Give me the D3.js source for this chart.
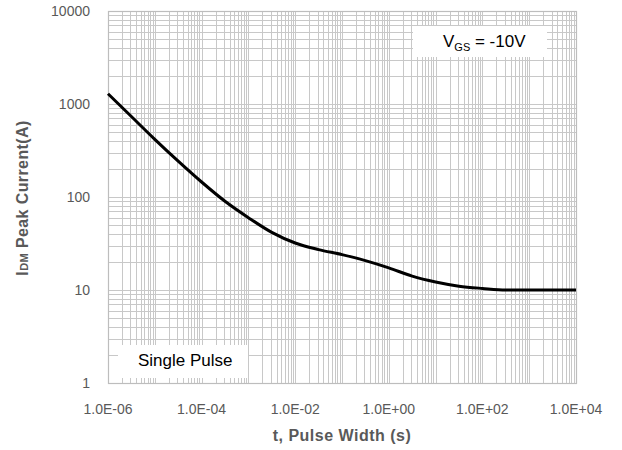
<!DOCTYPE html>
<html><head><meta charset="utf-8">
<script src="https://cdn.jsdelivr.net/npm/d3@7"></script>
<style>body{margin:0;background:#fff}svg{display:block}</style>
</head><body>
<svg id="c" width="622" height="450"></svg>
<script>
// Data (half-decade samples)
const pulseWidth = [1e-6, 3.16e-6, 1e-5, 3.16e-5, 1e-4, 3.16e-4, 1e-3, 3.16e-3, 1e-2, 3.16e-2, 1e-1, 3.16e-1, 1, 3.16, 10, 31.6, 100, 316, 1000, 3160, 10000];
const peakCurrent = [1290, 733, 417, 243, 145, 90, 60, 41.7, 32, 27.2, 24, 20.7, 17.3, 14.1, 12.2, 11.0, 10.4, 10.0, 10.0, 10.0, 10.0];
const xTickValues = [1e-6, 1e-4, 1e-2, 1, 1e2, 1e4];
const xTickLabels = ["1.0E-06", "1.0E-04", "1.0E-02", "1.0E+00", "1.0E+02", "1.0E+04"];
const yTickValues = [1, 10, 100, 1000, 10000];
const yTickLabels = ["1", "10", "100", "1000", "10000"];

const svg = d3.select("#c");
const L = 108, R = 576, T = 11, B = 383;
const x = d3.scaleLog().domain([1e-6, 1e4]).range([L, R]);
const y = d3.scaleLog().domain([1, 1e4]).range([B, T]);

const grid = svg.append("g");
const xs = [];
for (let n = -6; n < 4; n++) for (let k = 1; k <= 9; k++) xs.push(k * Math.pow(10, n));
xs.push(1e4);
const ys = [];
for (let n = 0; n < 4; n++) for (let k = 1; k <= 9; k++) ys.push(k * Math.pow(10, n));
ys.push(1e4);
grid.selectAll("line.v").data(xs).join("line")
  .attr("x1", d => Math.round(x(d)) + 0.5).attr("x2", d => Math.round(x(d)) + 0.5)
  .attr("y1", T).attr("y2", B).attr("stroke", "#c8c8c8").attr("stroke-width", 1);
grid.selectAll("line.h").data(ys).join("line")
  .attr("y1", d => Math.round(y(d)) + 0.5).attr("y2", d => Math.round(y(d)) + 0.5)
  .attr("x1", L).attr("x2", R).attr("stroke", "#c8c8c8").attr("stroke-width", 1);
svg.append("rect").attr("x", L + 0.5).attr("y", T + 0.5).attr("width", R - L).attr("height", B - T)
  .attr("fill", "none").attr("stroke", "#bdbdbd").attr("stroke-width", 1.2);

// Annotation boxes
svg.append("rect").attr("x", 413).attr("y", 26).attr("width", 134).attr("height", 31).attr("fill", "#fff");
svg.append("rect").attr("x", 118).attr("y", 345).attr("width", 130).attr("height", 33).attr("fill", "#fff");

// Curve
const pts = pulseWidth.map((t, i) => [t, peakCurrent[i]]);
svg.append("path").datum(pts)
  .attr("d", d3.line().x(d => x(d[0])).y(d => y(d[1])).curve(d3.curveMonotoneX))
  .attr("fill", "none").attr("stroke", "#000").attr("stroke-width", 3)
  .attr("stroke-linejoin", "round").attr("stroke-linecap", "butt");

const font = "'Liberation Sans', Arial, sans-serif";
// Tick labels
svg.selectAll("text.xt").data(xTickValues).join("text")
  .attr("x", d => x(d)).attr("y", 414).attr("text-anchor", "middle")
  .attr("font-family", font).attr("font-size", 14).attr("fill", "#595959")
  .text((d, i) => xTickLabels[i]);
svg.selectAll("text.yt").data(yTickValues).join("text")
  .attr("x", 90).attr("y", d => y(d) + 5).attr("text-anchor", "end")
  .attr("font-family", font).attr("font-size", 14).attr("fill", "#595959")
  .text((d, i) => yTickLabels[i]);

// Axis titles
svg.append("text").attr("x", 342).attr("y", 441).attr("text-anchor", "middle")
  .attr("font-family", font).attr("font-size", 16).attr("font-weight", "bold")
  .attr("letter-spacing", 0.5).attr("fill", "#595959").text("t, Pulse Width (s)");
const yt = svg.append("text").attr("transform", "translate(28,198) rotate(-90)")
  .attr("text-anchor", "middle").attr("font-family", font).attr("font-weight", "bold")
  .attr("fill", "#595959").attr("font-size", 16).attr("letter-spacing", 0.4);
yt.append("tspan").text("I");
yt.append("tspan").attr("font-size", 11).text("DM");
yt.append("tspan").text(" Peak Current(A)");

// Annotation text
const vt = svg.append("text").attr("x", 443).attr("y", 47)
  .attr("font-family", font).attr("font-size", 17).attr("fill", "#000");
vt.append("tspan").text("V");
vt.append("tspan").attr("font-size", 11).attr("dy", 4).text("GS");
vt.append("tspan").attr("dy", -4).text(" = -10V");
svg.append("text").attr("x", 138).attr("y", 366)
  .attr("font-family", font).attr("font-size", 17).attr("fill", "#000").text("Single Pulse");
</script>
</body></html>
